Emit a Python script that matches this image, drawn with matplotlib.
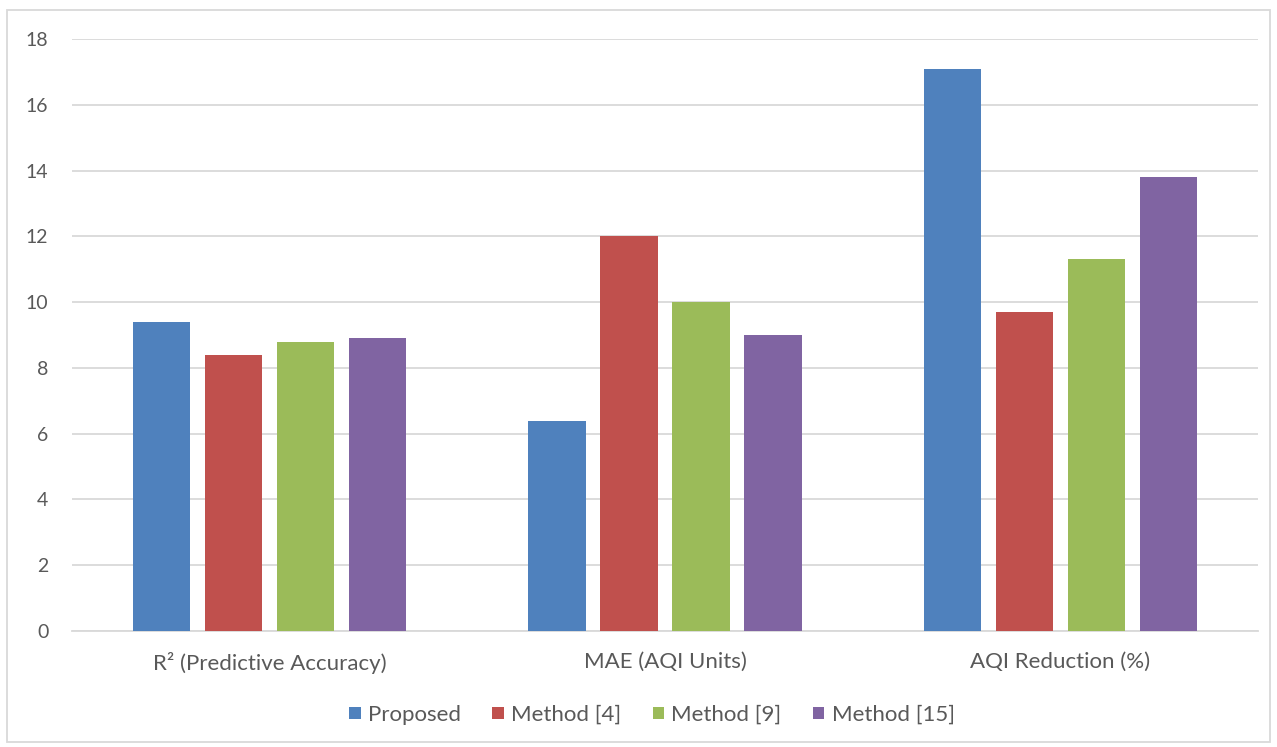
import numpy as np
import matplotlib.pyplot as plt
from matplotlib.patches import Rectangle

plt.rcParams['font.family'] = ['Lato', 'DejaVu Sans']

categories = ['R² (Predictive Accuracy)', 'MAE (AQI Units)', 'AQI Reduction (%)']
series_names = ['Proposed', 'Method [4]', 'Method [9]', 'Method [15]']
proposed = [9.4, 6.4, 17.1]
method_4 = [8.4, 12.0, 9.7]
method_9 = [8.8, 10.0, 11.3]
method_15 = [8.9, 9.0, 13.8]
colors = ['#4F81BD', '#C0504D', '#9BBB59', '#8064A2']

fig = plt.figure(figsize=(12.77, 7.47), dpi=100)
ax = fig.add_axes([72 / 1277, 1 - 631 / 747, (1258 - 72) / 1277, (631 - 39) / 747])

x = np.arange(len(categories))
width = 0.145
step = 0.182
for i, (vals, name) in enumerate(zip([proposed, method_4, method_9, method_15], series_names)):
    ax.bar(x + (i - 1.5) * step, vals, width, color=colors[i], label=name, zorder=3)

ax.set_xlim(-0.5, 2.5)
ax.set_ylim(0, 18)
ax.set_yticks(range(0, 19, 2))
ax.set_xticks(x)
ax.set_xticklabels(categories)
ax.grid(axis='y', color='#D9D9D9', linewidth=1.3, zorder=0)
for s in ['left', 'right', 'top']:
    ax.spines[s].set_visible(False)
ax.spines['bottom'].set_color('#D9D9D9')
ax.spines['bottom'].set_linewidth(1.3)
ax.tick_params(axis='both', length=0, colors='#595959')
ax.tick_params(axis='y', pad=17, labelsize=14)
ax.tick_params(axis='x', pad=15, labelsize=16)

fig.legend(loc='center', bbox_to_anchor=(652 / 1277, 1 - 715 / 747), ncol=4, frameon=False,
           fontsize=16, labelcolor='#595959', handlelength=0.5, handleheight=0.5,
           handletextpad=0.35, columnspacing=1.4)

fig.patches.append(Rectangle((7 / 1277, 5 / 747), 1263 / 1277, 732 / 747, transform=fig.transFigure,
                             fill=False, edgecolor='#D9D9D9', linewidth=1.3))

fig.savefig('out.png', dpi=100)
